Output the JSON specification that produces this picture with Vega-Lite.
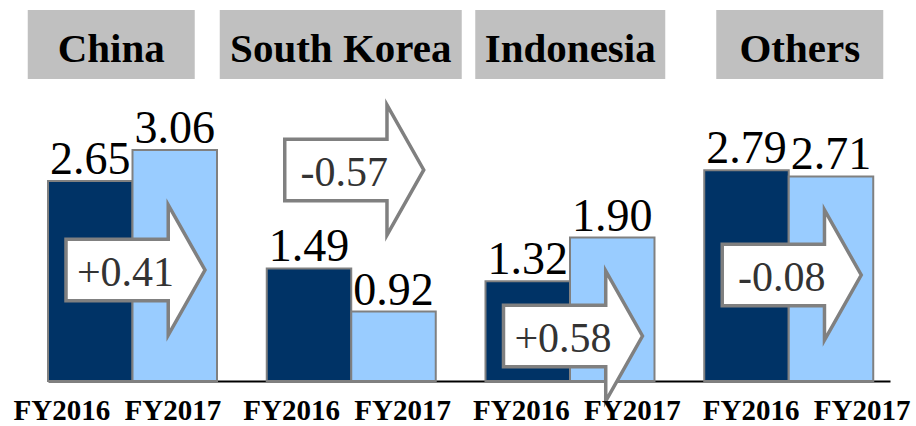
{
  "$schema": "https://vega.github.io/schema/vega-lite/v6.json",
  "width": 916,
  "height": 381,
  "autosize": {"type": "none"},
  "padding": {"left": 0, "top": 0, "right": 0, "bottom": 45},
  "background": "white",
  "config": {"view": {"stroke": null}, "font": "Liberation Serif"},
  "datasets": {
    "sales": [
      {"country": "China", "year": "FY2016", "value": 2.65},
      {"country": "China", "year": "FY2017", "value": 3.06},
      {"country": "South Korea", "year": "FY2016", "value": 1.49},
      {"country": "South Korea", "year": "FY2017", "value": 0.92},
      {"country": "Indonesia", "year": "FY2016", "value": 1.32},
      {"country": "Indonesia", "year": "FY2017", "value": 1.90},
      {"country": "Others", "year": "FY2016", "value": 2.79},
      {"country": "Others", "year": "FY2017", "value": 2.71}
    ],
    "changes": [
      {"country": "China", "change": "+0.41", "at": 1.47},
      {"country": "South Korea", "change": "-0.57", "at": 2.795},
      {"country": "Indonesia", "change": "+0.58", "at": 0.596},
      {"country": "Others", "change": "-0.08", "at": 1.404}
    ]
  },
  "layer": [
    {
      "data": {"name": "changes"},
      "encoding": {
        "x": {"field": "country", "type": "nominal", "scale": {"domain": ["China", "South Korea", "Indonesia", "Others"], "range": [-3.5, 914.5], "paddingInner": 0, "paddingOuter": 0}, "axis": null}
      },
      "layer": [
        {
          "mark": {"type": "bar", "color": "#C0C0C0"},
          "encoding": {
            "y": {"datum": 4.0, "type": "quantitative", "scale": {"domain": [0, 5.046], "nice": false}, "axis": null},
            "y2": {"datum": 4.914},
            "size": {"field": "country", "type": "nominal", "scale": {"type": "ordinal", "domain": ["China", "South Korea", "Indonesia", "Others"], "range": [167, 242, 190, 167]}, "legend": null}
          }
        },
        {
          "mark": {"type": "text", "fontSize": 41, "fontWeight": "bold", "baseline": "alphabetic", "color": "#000000"},
          "encoding": {
            "y": {"datum": 4.225, "type": "quantitative", "scale": {"domain": [0, 5.046], "nice": false}, "axis": null},
            "text": {"field": "country", "type": "nominal"}
          }
        }
      ]
    },
    {
      "layer": [
        {
          "data": {"name": "sales"},
          "mark": {"type": "bar", "stroke": "#808080", "strokeWidth": 2},
          "encoding": {
            "x": {"field": "country", "type": "nominal", "scale": {"domain": ["China", "South Korea", "Indonesia", "Others"], "range": [48, 890], "paddingInner": 0.2274, "paddingOuter": 0.0383, "align": 0}, "axis": {"labels": false, "ticks": false, "domain": true, "domainColor": "#000000", "domainWidth": 2, "title": null, "grid": false}},
            "xOffset": {"field": "year", "type": "nominal", "scale": {"paddingInner": 0, "paddingOuter": 0}},
            "y": {"field": "value", "type": "quantitative", "scale": {"domain": [0, 5.046], "nice": false}, "axis": null},
            "color": {"field": "year", "type": "nominal", "scale": {"domain": ["FY2016", "FY2017"], "range": ["#003366", "#99CCFF"]}, "legend": null}
          }
        },
        {
          "data": {"name": "sales"},
          "mark": {"type": "text", "fontSize": 46, "baseline": "alphabetic", "dy": -7, "color": "#000000"},
          "encoding": {
            "x": {"field": "country", "type": "nominal", "scale": {"domain": ["China", "South Korea", "Indonesia", "Others"]}},
            "xOffset": {"field": "year", "type": "nominal"},
            "y": {"field": "value", "type": "quantitative", "scale": {"domain": [0, 5.046], "nice": false}, "axis": null},
            "text": {"field": "value", "type": "quantitative", "format": ".2f"}
          }
        },
        {
          "data": {"name": "changes"},
          "mark": {"type": "point", "shape": "M-1,-0.443L0.471,-0.443L0.471,-0.936L1,0L0.471,0.936L0.471,0.443L-1,0.443Z", "size": 19321, "filled": true, "fill": "#FFFFFF", "stroke": "#808080", "strokeWidth": 3.5, "opacity": 1, "xOffset": 3},
          "encoding": {
            "x": {"field": "country", "type": "nominal", "scale": {"domain": ["China", "South Korea", "Indonesia", "Others"]}},
            "y": {"field": "at", "type": "quantitative", "scale": {"domain": [0, 5.046], "nice": false}, "axis": null}
          }
        },
        {
          "data": {"name": "changes"},
          "mark": {"type": "text", "fontSize": 42, "baseline": "middle", "dy": 3, "xOffset": -7, "color": "#333333"},
          "encoding": {
            "x": {"field": "country", "type": "nominal", "scale": {"domain": ["China", "South Korea", "Indonesia", "Others"]}},
            "y": {"field": "at", "type": "quantitative", "scale": {"domain": [0, 5.046], "nice": false}, "axis": null},
            "text": {"field": "change", "type": "nominal"}
          }
        }
      ]
    },
    {
      "data": {"name": "sales"},
      "encoding": {
        "x": {"field": "country", "type": "nominal", "scale": {"domain": ["China", "South Korea", "Indonesia", "Others"], "range": [2.9, 922.1], "paddingInner": 0, "paddingOuter": 0}, "axis": null},
        "y": {"datum": -0.52, "type": "quantitative", "scale": {"domain": [0, 5.046], "nice": false}, "axis": null},
        "text": {"field": "year", "type": "nominal"}
      },
      "layer": [
        {
          "transform": [{"filter": "datum.year == 'FY2016'"}],
          "mark": {"type": "text", "fontSize": 29, "fontWeight": "bold", "baseline": "alphabetic", "color": "#000000", "xOffset": -56}
        },
        {
          "transform": [{"filter": "datum.year == 'FY2017'"}],
          "mark": {"type": "text", "fontSize": 29, "fontWeight": "bold", "baseline": "alphabetic", "color": "#000000", "xOffset": 55}
        }
      ]
    }
  ],
  "resolve": {"scale": {"x": "independent", "xOffset": "independent", "size": "independent"}}
}
